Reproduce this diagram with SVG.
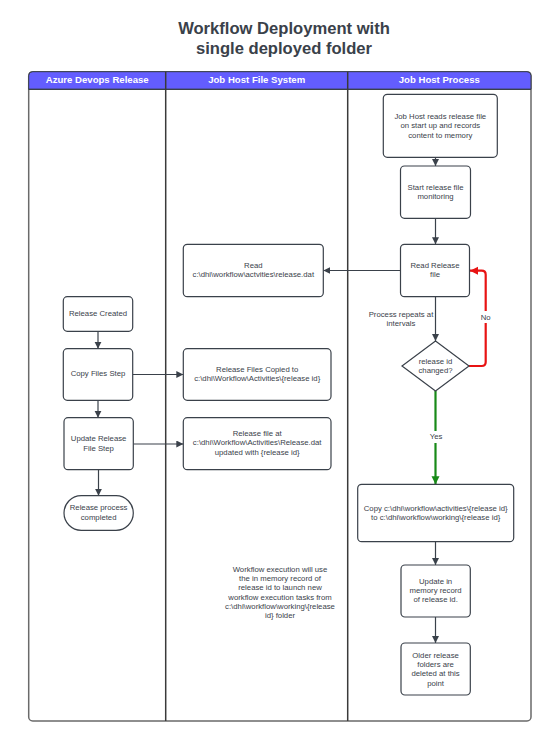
<svg xmlns="http://www.w3.org/2000/svg" width="551" height="752" viewBox="0 0 551 752">
<style>
.t{font-family:"Liberation Sans",Arial,sans-serif;font-size:7.75px;fill:#3a414a;text-anchor:middle;dominant-baseline:central}
.h{font-family:"Liberation Sans",Arial,sans-serif;font-size:9.6px;font-weight:bold;fill:#ffffff;text-anchor:middle;dominant-baseline:central}
.title{font-family:"Liberation Sans",Arial,sans-serif;font-size:16.6px;font-weight:bold;fill:#3a414a;text-anchor:middle}
.box{fill:#ffffff;stroke:#3a414a;stroke-width:1.2}
.c{fill:none;stroke:#3a414a;stroke-width:1.2}
.red{fill:none;stroke:#e81313;stroke-width:2.2}
.grn{fill:none;stroke:#188a18;stroke-width:2.2}
.lab{fill:#ffffff}
</style>
<defs>
<marker id="a" markerUnits="userSpaceOnUse" markerWidth="8" markerHeight="8" refX="7" refY="3.5" orient="auto"><path d="M0,0 L7,3.5 L0,7 z" fill="#3a414a"/></marker>
<marker id="ar" markerUnits="userSpaceOnUse" markerWidth="10" markerHeight="10" refX="8" refY="4" orient="auto"><path d="M0,0 L8,4 L0,8 z" fill="#e81313"/></marker>
<marker id="ag" markerUnits="userSpaceOnUse" markerWidth="10" markerHeight="10" refX="8" refY="4" orient="auto"><path d="M0,0 L8,4 L0,8 z" fill="#188a18"/></marker>
</defs>
<rect width="551" height="752" fill="#ffffff"/>
<text class="title" x="284" y="33.5">Workflow Deployment with</text>
<text class="title" x="284" y="53.5">single deployed folder</text>
<g id="pool">
<rect x="28.7" y="71.7" width="502.3" height="649.3" rx="4" fill="#ffffff" stroke="#6a6a6a" stroke-width="1.5"/>
<path d="M28.7,89.3 V75.7 Q28.7,71.7 32.7,71.7 H527 Q531,71.7 531,75.7 V89.3 Z" fill="#635dff" stroke="#3a414a" stroke-width="1"/>
<line x1="28.7" y1="89.3" x2="531" y2="89.3" stroke="#3a414a" stroke-width="1.2"/>
<line x1="165.7" y1="71.7" x2="165.7" y2="721" stroke="#3a3a3a" stroke-width="1.5"/>
<line x1="347.7" y1="71.7" x2="347.7" y2="721" stroke="#3a3a3a" stroke-width="1.5"/>
<text class="h" x="97.2" y="79.5">Azure Devops Release</text>
<text class="h" x="256.7" y="79.5">Job Host File System</text>
<text class="h" x="439.3" y="79.5">Job Host Process</text>
</g>
<g id="connectors">
<line class="c" x1="435.5" y1="157.3" x2="435.5" y2="166" marker-end="url(#a)"/>
<line class="c" x1="435.5" y1="218.3" x2="435.5" y2="244.3" marker-end="url(#a)"/>
<line class="c" x1="401" y1="270.5" x2="323.3" y2="270.5" marker-end="url(#a)"/>
<line class="c" x1="435.5" y1="296.7" x2="435.5" y2="341" marker-end="url(#a)"/>
<path class="red" d="M469,366 H481.7 Q485.7,366 485.7,362 V274.7 Q485.7,270.7 481.7,270.7 H470" marker-end="url(#ar)"/>
<path class="grn" d="M435.5,391 V484.3" marker-end="url(#ag)"/>
<line class="c" x1="435.5" y1="541.7" x2="435.5" y2="565" marker-end="url(#a)"/>
<line class="c" x1="435.5" y1="617" x2="435.5" y2="643" marker-end="url(#a)"/>
<line class="c" x1="98" y1="331.3" x2="98" y2="348.7" marker-end="url(#a)"/>
<line class="c" x1="98" y1="400.3" x2="98" y2="417.7" marker-end="url(#a)"/>
<line class="c" x1="98.5" y1="469.7" x2="98.5" y2="495.7" marker-end="url(#a)"/>
<line class="c" x1="132.7" y1="374.5" x2="183.3" y2="374.5" marker-end="url(#a)"/>
<line class="c" x1="133.3" y1="444" x2="183.3" y2="444" marker-end="url(#a)"/>
<rect class="lab" x="479" y="311" width="14" height="12"/>
<text class="t" x="485.7" y="317">No</text>
<rect class="lab" x="428" y="431" width="16" height="12"/>
<text class="t" x="436" y="436.7">Yes</text>
<text class="t" x="401" y="314">Process repeats at</text>
<text class="t" x="401" y="323.3">intervals</text>
</g>
<g id="n1">
<rect class="box" x="383.3" y="94.3" width="114" height="63" rx="4"/>
<text class="t" x="440.3" y="116.5">Job Host reads release file</text>
<text class="t" x="440.3" y="125.8">on start up and records</text>
<text class="t" x="440.3" y="135.1">content to memory</text>
</g>
<g id="n2">
<rect class="box" x="400.5" y="166" width="70" height="52.3" rx="4"/>
<text class="t" x="435.5" y="187.5">Start release file</text>
<text class="t" x="435.5" y="196.8">monitoring</text>
</g>
<g id="n3">
<rect class="box" x="400.5" y="244.3" width="69" height="52.4" rx="4"/>
<text class="t" x="435" y="265.3">Read Release</text>
<text class="t" x="435" y="274.6">file</text>
</g>
<g id="n4">
<rect class="box" x="183.3" y="244.3" width="140" height="52.4" rx="4"/>
<text class="t" x="253.3" y="265.3">Read</text>
<text class="t" x="253.3" y="274.6">c:\dhi\workflow\actvities\release.dat</text>
</g>
<g id="n5">
<path class="box" d="M435.5,341 L469,366 L435.5,391 L402,366 Z"/>
<text class="t" x="435.5" y="361">release id</text>
<text class="t" x="435.5" y="370.3">changed?</text>
</g>
<g id="n6">
<rect class="box" x="357.7" y="484.3" width="156" height="57.4" rx="4"/>
<text class="t" x="435.7" y="508">Copy c:\dhi\workflow\activities\{release id}</text>
<text class="t" x="435.7" y="517.3">to c:\dhi\workflow\working\{release id}</text>
</g>
<g id="n7">
<rect class="box" x="401" y="565" width="69.3" height="52" rx="4"/>
<text class="t" x="435.6" y="581">Update in</text>
<text class="t" x="435.6" y="590.3">memory record</text>
<text class="t" x="435.6" y="599.6">of release id.</text>
</g>
<g id="n8">
<rect class="box" x="401" y="643" width="69.3" height="52" rx="4"/>
<text class="t" x="435.6" y="655.1">Older release</text>
<text class="t" x="435.6" y="664.4">folders are</text>
<text class="t" x="435.6" y="673.7">deleted at this</text>
<text class="t" x="435.6" y="683">point</text>
</g>
<g id="n9">
<rect class="box" x="63.3" y="296.7" width="69.4" height="34.6" rx="4"/>
<text class="t" x="98" y="313.3">Release Created</text>
</g>
<g id="n10">
<rect class="box" x="63.3" y="348.7" width="69.4" height="51.6" rx="4"/>
<text class="t" x="98" y="373.3">Copy Files Step</text>
</g>
<g id="n11">
<rect class="box" x="64" y="417.7" width="69.3" height="52" rx="4"/>
<text class="t" x="98.6" y="438.7">Update Release</text>
<text class="t" x="98.6" y="448">File Step</text>
</g>
<g id="n12">
<rect class="box" x="64" y="495.7" width="69.3" height="34.6" rx="17.3"/>
<text class="t" x="98.6" y="507.7">Release process</text>
<text class="t" x="98.6" y="517">completed</text>
</g>
<g id="n13">
<rect class="box" x="183.3" y="348.7" width="147.7" height="51.6" rx="4"/>
<text class="t" x="257.2" y="369.4">Release Files Copied to</text>
<text class="t" x="257.2" y="378.7">c:\dhi\Workflow\Activities\{release id}</text>
</g>
<g id="n14">
<rect class="box" x="183.3" y="417.7" width="147.7" height="52" rx="4"/>
<text class="t" x="257.2" y="433.4">Release file at</text>
<text class="t" x="257.2" y="442.7">c:\dhi\Workflow\Activities\Release.dat</text>
<text class="t" x="257.2" y="452">updated with {release id}</text>
</g>
<g id="n15">
<text class="t" x="280" y="569.3">Workflow execution will use</text>
<text class="t" x="280" y="578.6">the in memory record of</text>
<text class="t" x="280" y="587.9">release id to launch new</text>
<text class="t" x="280" y="597.2">workflow execution tasks from</text>
<text class="t" x="280" y="606.5">c:\dhi\workflow\working\{release</text>
<text class="t" x="280" y="615.8">id} folder</text>
</g>
</svg>
